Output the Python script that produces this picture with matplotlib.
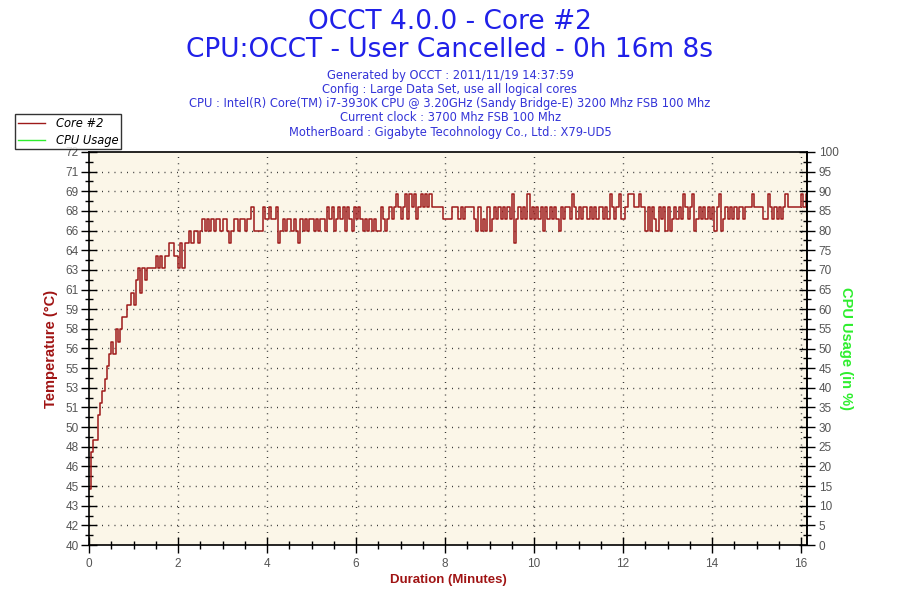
import numpy as np
import matplotlib
matplotlib.use("Agg")
import matplotlib.pyplot as plt
from matplotlib.lines import Line2D
from matplotlib.ticker import FixedLocator, MultipleLocator

# ---------------- data ----------------
title_main = "OCCT 4.0.0 - Core #2"
title_sub = "CPU:OCCT - User Cancelled - 0h 16m 8s"
info_lines = [
    "Generated by OCCT : 2011/11/19 14:37:59",
    "Config : Large Data Set, use all logical cores",
    "CPU : Intel(R) Core(TM) i7-3930K CPU @ 3.20GHz (Sandy Bridge-E) 3200 Mhz FSB 100 Mhz",
    "Current clock : 3700 Mhz FSB 100 Mhz",
    "MotherBoard : Gigabyte Tecohnology Co., Ltd.: X79-UD5",
]
series_names = ["Core #2", "CPU Usage"]

sample_seconds = 3
duration_min = 16 + 8 / 60.0

# Core #2 temperature (°C), one reading every 3 s, one row per minute
core2_temp = [
    45, 48, 49, 49, 51, 52, 53, 54, 55, 56, 57, 56, 58, 57, 58, 59, 59, 60, 60, 61,
    60, 62, 63, 61, 63, 62, 63, 63, 63, 63, 64, 63, 64, 63, 64, 64, 65, 65, 64, 64,
    63, 65, 63, 65, 65, 66, 65, 66, 66, 65, 66, 67, 66, 67, 66, 67, 66, 67, 67, 66,
    67, 67, 66, 65, 66, 67, 67, 66, 67, 67, 66, 67, 67, 68, 66, 66, 66, 66, 68, 67,
    67, 68, 67, 67, 68, 65, 66, 67, 66, 67, 67, 66, 67, 66, 65, 67, 66, 67, 66, 67,
    67, 66, 67, 66, 67, 67, 66, 68, 67, 68, 66, 67, 68, 67, 68, 66, 68, 67, 66, 68,
    67, 68, 67, 66, 67, 66, 67, 66, 67, 66, 66, 68, 67, 66, 67, 68, 67, 68, 69, 68,
    67, 68, 69, 67, 69, 68, 69, 67, 68, 69, 68, 69, 68, 69, 68, 68, 68, 68, 68, 67,
    67, 67, 67, 68, 68, 68, 67, 68, 67, 68, 68, 68, 68, 67, 66, 68, 66, 67, 66, 68,
    66, 67, 68, 67, 68, 67, 68, 67, 68, 67, 69, 65, 67, 68, 67, 68, 67, 69, 67, 68,
    67, 68, 67, 68, 66, 68, 67, 68, 67, 68, 67, 66, 68, 67, 68, 68, 67, 69, 68, 67,
    68, 67, 68, 68, 67, 68, 67, 68, 67, 68, 68, 67, 68, 67, 69, 68, 67, 68, 69, 67,
    67, 68, 69, 69, 69, 68, 68, 69, 68, 68, 66, 68, 66, 68, 67, 66, 68, 67, 68, 66,
    68, 66, 67, 68, 67, 68, 67, 69, 68, 67, 68, 69, 66, 67, 68, 67, 68, 67, 68, 67,
    68, 66, 68, 69, 66, 67, 68, 67, 68, 67, 68, 67, 68, 68, 67, 68, 68, 68, 69, 68,
    68, 68, 68, 67, 67, 69, 68, 67, 68, 67, 68, 67, 68, 69, 68, 68, 68, 68, 68, 68,
    69, 68, 69,
]

temp_axis_min = 40.45
temp_axis_step = 1.6
temp_tick_labels = ["40", "42", "43", "45", "46", "48", "50", "51", "53", "55", "56",
                    "58", "59", "61", "63", "64", "66", "68", "69", "71", "72"]
usage_ticks = list(range(0, 101, 5))
minute_ticks = list(range(0, 17, 2))

# ---------------- styling ----------------
title_color = "#2020E8"
info_color = "#3434D8"
temp_color = "#9E1A1A"
label_red = "#A01414"
usage_green = "#2EEE2E"
bg_color = "#FBF6E8"
tick_label_color = "#555555"
narrow = ["Liberation Sans Narrow", "Liberation Sans", "DejaVu Sans"]

fig = plt.figure(figsize=(9, 6), dpi=100)
ax = fig.add_axes([89 / 900, 1 - 545 / 600, (807 - 89) / 900, (545 - 152) / 600])
ax.set_facecolor(bg_color)

t = np.arange(len(core2_temp)) * sample_seconds / 60.0
t = np.append(t, duration_min)
temps = np.append(core2_temp, core2_temp[-1])
ax.plot(t, temps, color=temp_color, lw=1.1, drawstyle="steps-post", zorder=3)

n_ticks = len(temp_tick_labels)
temp_ticks = [temp_axis_min + temp_axis_step * i for i in range(n_ticks)]
ax.set_ylim(temp_ticks[0], temp_ticks[-1])
ax.set_xlim(0, duration_min)
ax.yaxis.set_major_locator(FixedLocator(temp_ticks))
ax.set_yticklabels(temp_tick_labels)
ax.yaxis.set_minor_locator(FixedLocator([v + temp_axis_step / 2 for v in temp_ticks[:-1]]))
ax.xaxis.set_major_locator(FixedLocator(minute_ticks))
ax.xaxis.set_minor_locator(MultipleLocator(0.5))

dot = (0, (0.7, 3.8))
for v in temp_ticks[1:-1]:
    ax.axhline(v, color="#333333", lw=1.0, ls=dot, zorder=1)
for v in minute_ticks[1:]:
    ax.axvline(v, color="#333333", lw=1.0, ls=dot, zorder=1)

for s in ax.spines.values():
    s.set_color("black")
    s.set_linewidth(1.2)
    s.set_zorder(4)

ax.tick_params(axis="both", which="major", direction="inout", length=11, width=1,
               colors="black", labelcolor=tick_label_color, labelsize=8.5)
ax.tick_params(axis="both", which="minor", direction="inout", length=6, width=1, colors="black")
ax.tick_params(axis="y", pad=2)
ax.tick_params(axis="x", pad=4)
for lab in ax.get_xticklabels() + ax.get_yticklabels():
    lab.set_family(narrow)

ax2 = ax.twinx()
ax2.set_ylim(0, 100)
ax2.yaxis.set_major_locator(FixedLocator(usage_ticks))
ax2.yaxis.set_minor_locator(MultipleLocator(2.5))
ax2.tick_params(axis="y", which="major", direction="inout", length=11, width=1,
                colors="black", labelcolor=tick_label_color, labelsize=8.5, pad=3)
ax2.tick_params(axis="y", which="minor", direction="inout", length=6, width=1, colors="black")
for lab in ax2.get_yticklabels():
    lab.set_family(narrow)
for s in ax2.spines.values():
    s.set_visible(False)
ax2.spines["right"].set_visible(True)
ax2.spines["right"].set_linewidth(1.2)

ax.set_ylabel("Temperature (°C)", color=label_red, fontsize=10.5, fontweight="bold",
              family=narrow, labelpad=5)
ax2.set_ylabel("CPU Usage (in %)", color=usage_green, fontsize=10.5, fontweight="bold",
               family=narrow, rotation=270, labelpad=10)
ax.set_xlabel("Duration (Minutes)", color=label_red, fontsize=9.5, fontweight="bold",
              family=narrow, labelpad=3)

fig.text(0.5, 1 - 22 / 600, title_main, ha="center", va="center", color=title_color, fontsize=19)
fig.text(0.5, 1 - 50 / 600, title_sub, ha="center", va="center", color=title_color, fontsize=19)
for i, line in enumerate(info_lines):
    fig.text(0.5, 1 - (75 + 14.3 * i) / 600, line, ha="center", va="center",
             color=info_color, fontsize=8.3)

handles = [Line2D([], [], color=temp_color, lw=1), Line2D([], [], color=usage_green, lw=1)]
leg = fig.legend(handles, series_names, loc="upper left",
                 bbox_to_anchor=(15 / 900, 1 - 114 / 600), bbox_transform=fig.transFigure,
                 borderaxespad=0, fancybox=False, frameon=True, handlelength=2.4,
                 prop={"style": "italic", "size": 8.3}, borderpad=0.22, labelspacing=0.35,
                 handletextpad=0.9)
leg.get_frame().set_edgecolor("black")
leg.get_frame().set_linewidth(1)

fig.savefig("out.png", dpi=100)
